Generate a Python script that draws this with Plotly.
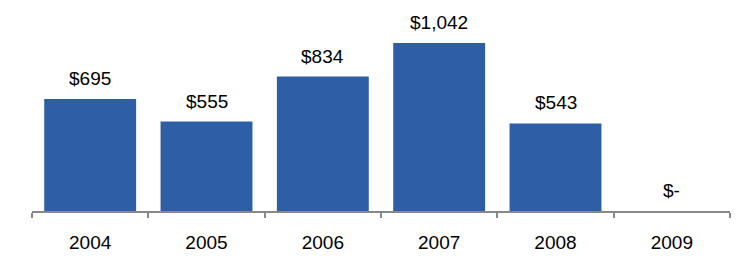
import plotly.graph_objects as go

years = ["2004", "2005", "2006", "2007", "2008", "2009"]
values = [695, 555, 834, 1042, 543, 0]
labels = ["$695", "$555", "$834", "$1,042", "$543", "$-"]

fig = go.Figure()
fig.add_trace(go.Bar(x=years, y=values, marker=dict(color="#2E5EA5", line=dict(width=0)),
                     width=0.79, hoverinfo="skip"))
for i, (v, t) in enumerate(zip(values, labels)):
    fig.add_annotation(x=i, y=v, xref="x", yref="y", text=t, showarrow=False, yanchor="bottom",
                       yshift=8, font=dict(family="Liberation Sans, Arial", size=19, color="#000"))

fig.update_layout(
    width=750, height=256,
    margin=dict(l=32, r=20, t=0, b=45),
    paper_bgcolor="white", plot_bgcolor="white",
    showlegend=False,
    font=dict(family="Liberation Sans, Arial", size=19, color="#000"),
)
fig.update_xaxes(type="category", range=[-0.5, 5.5], showline=True, linecolor="#888", linewidth=1.5,
                 ticks="outside", tickson="boundaries", ticklen=5, tickcolor="#888", tickwidth=1.5,
                 ticklabelstandoff=13, showgrid=False, tickfont=dict(size=19))
fig.update_yaxes(range=[0, 1309], visible=False, showgrid=False, zeroline=False)
fig.write_html("out.html")
